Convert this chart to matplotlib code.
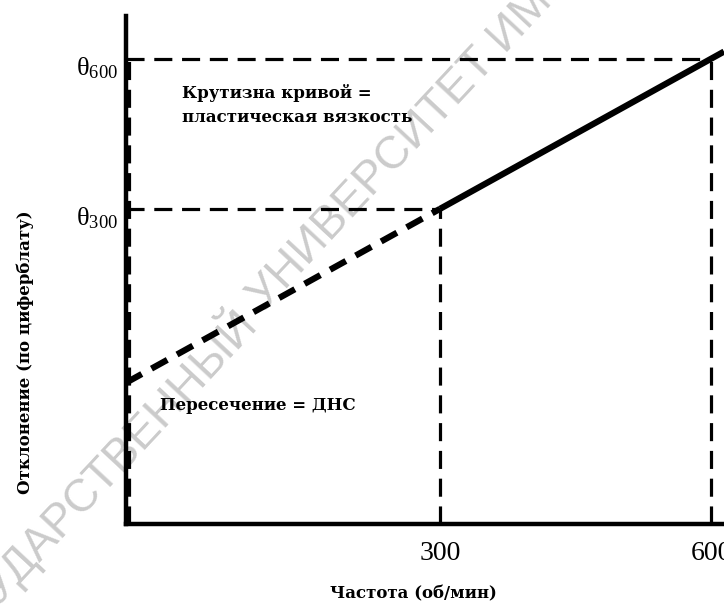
import matplotlib
matplotlib.use('Agg')
import matplotlib.pyplot as plt
import matplotlib.transforms as mtransforms
import numpy as np

# данные: частота вращения и отсчёт по циферблату
rpm = [300, 600]
dial = [42, 62]
rpm_labels = ['300', '600']
dial_labels = [r'$\mathregular{θ_{300}}$', r'$\mathregular{θ_{600}}$']

ylab = 'Отклонение (по циферблату)'
xlab = 'Частота (об/мин)'
note_slope = 'Крутизна кривой =\nпластическая вязкость'
note_yp = 'Пересечение = ДНС'
wm_left = 'ГОСУДАРСТВЕННЫЙ'
wm_right = 'УНИВЕРСИТЕТ ИМЕНИ'

plt.rcParams['lines.scale_dashes'] = False

fig = plt.figure(figsize=(7.24, 6.07), dpi=100)
ax = fig.add_axes([0.174, 0.1367, 0.826, 0.8369])
ax.set_facecolor('none')
x0, x1 = -47.6, 614.4
ax.set_xlim(x0, x1)
ax.set_ylim(0, 67.7)

# прямая Бингама через две точки
coef = np.polyfit(rpm, dial, 1)
ax.plot([x0, rpm[0]], np.polyval(coef, [x0, rpm[0]]), color='k', lw=4.5,
        dashes=(13, 8))
ax.plot([rpm[0], x1], np.polyval(coef, [rpm[0], x1]), color='k', lw=4.5,
        solid_capstyle='butt')

# пунктирные проекции
guide = (13, 7)
for r, d in zip(rpm, dial):
    ax.plot([x0, r], [d, d], color='k', lw=2.3, dashes=guide)
    ax.plot([r, r], [0, d], color='k', lw=2.3, dashes=guide)
shift = mtransforms.ScaledTranslation(3 / 100, 0, fig.dpi_scale_trans)
ax.plot([x0, x0], [0, dial[1]], color='k', lw=2.3, dashes=guide,
        transform=ax.transData + shift, clip_on=False)

for s in ['top', 'right']:
    ax.spines[s].set_visible(False)
for s in ['left', 'bottom']:
    ax.spines[s].set_linewidth(3.2)
    ax.spines[s].set_color('k')

ax.set_xticks(rpm, rpm_labels, fontfamily='Liberation Serif', fontsize=20)
ax.set_yticks(dial, dial_labels, fontfamily='Liberation Serif', fontsize=19)
ax.tick_params(length=0)
ax.tick_params(axis='x', pad=12)
ax.tick_params(axis='y', pad=6)
down = mtransforms.ScaledTranslation(0, -7 / 100, fig.dpi_scale_trans)
for lab in ax.get_yticklabels():
    lab.set_transform(lab.get_transform() + down)

txt = dict(family='DejaVu Serif', weight='bold', fontsize=12)
fig.text(25 / 724, 1 - 352 / 607, ylab, rotation=90, ha='center', va='center', **txt)
fig.text(413 / 724, 1 - 594 / 607, xlab, ha='center', va='center', **txt)
fig.text(182 / 724, 1 - 84 / 607, note_slope, ha='left', va='top', linespacing=1.5, **txt)
fig.text(160 / 724, 1 - 405 / 607, note_yp, ha='left', va='center', **txt)

# водяной знак (по диагонали, за графиком)
wm = dict(family='Liberation Sans', fontsize=33, color='#cbcbcb', rotation=47,
          rotation_mode='anchor', va='center', zorder=-5)
fig.text(246 / 724, 1 - 314 / 607, wm_left, ha='right', **wm)
fig.text(256 / 724, 1 - 304 / 607, wm_right, ha='left', **wm)

fig.savefig('out.png', dpi=100)
